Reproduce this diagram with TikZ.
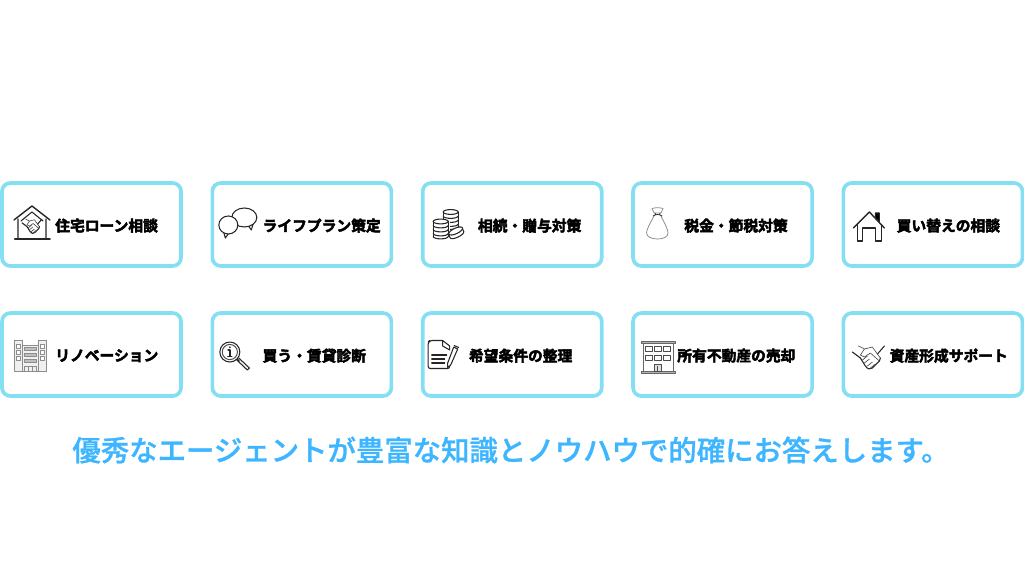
\documentclass[tikz,border=0pt]{standalone}
\usepackage{fontspec}
\setmainfont{Noto Sans CJK JP}
\newfontfamily\cardfont[FakeBold=3]{Noto Sans CJK JP Bold}
\newfontfamily\leadfont[FakeBold=1]{Noto Sans CJK JP Medium}
\usetikzlibrary{positioning}
\definecolor{cardline}{HTML}{84DFF2}
\definecolor{leadblue}{HTML}{3DB5FF}
\tikzstyle{card}=[rectangle, rounded corners=6pt, draw=cardline, line width=2.6pt, fill=white, minimum width=4.475cm, minimum height=2.075cm, outer sep=0pt, inner sep=0pt]
\tikzstyle{cardtext}=[font=\cardfont\fontsize{10.5pt}{12pt}\selectfont, inner sep=0pt, text=black, yshift=-0.8pt]
\tikzstyle{lead}=[font=\leadfont\fontsize{20.2pt}{24pt}\selectfont, text=leadblue, inner sep=0pt]
\tikzstyle{ink}=[draw=black!85, line width=0.75pt, line join=round, line cap=round]
\tikzstyle{thin}=[draw=black!70, line width=0.45pt, line join=round, line cap=round]
\tikzstyle{soft}=[draw=black!45, line width=0.55pt, line join=round]
\tikzset{
  handshake/.pic={
    \draw [ink] (-16,-5) -- (-8,1) (16,-11) -- (9,-3);
    \draw [thin] (-10,-11) .. controls (-7,-10) and (-6,-9) .. (-4,-8) -- (4,-10) -- (9,-3) -- (12,1);
    \draw [thin] (-4,-8) -- (-8,-2) -- (-4,0) -- (2,-4) -- (11,4);
    \draw [ink] (-8,1) -- (-3,9) .. controls (-1,12) and (2,13) .. (4,11) -- (11,4) -- (12,1);
    \draw [thin] (-6,3) -- (-1,-1) (-4,6) -- (1,2) (-1,9) -- (4,5) (2,11) -- (7,7);
  },
  loanicon/.pic={
    \draw [ink, line width=1pt] (12,37) -- (30,23) -- (48,37);
    \draw [ink] (16,36) -- (16,55) (44,36) -- (44,55) (19,38) -- (30,29) -- (41,38);
    \draw [ink, line width=1.4pt] (13,56) -- (48,56);
    \pic [scale=0.62] at (30,43) {handshake};
  },
  planicon/.pic={
    \draw [ink, fill=white] (34,40) -- (39,47) -- (41,40) -- cycle;
    \draw [ink, fill=white] (32,34.5) ellipse [x radius=12.5, y radius=9.5];
    \draw [ink, fill=white] (11,48) -- (13,55) -- (18,48) -- cycle;
    \draw [ink, fill=white] (16,42) ellipse [x radius=9.5, y radius=9];
  },
  giftcoin/.pic={
    \draw [ink] (0,0) ellipse [x radius=7.5, y radius=2.4];
    \draw [ink] (-7.5,0) -- (-7.5,15) (7.5,0) -- (7.5,15);
    \draw [ink] (-7.5,4) arc [start angle=180, end angle=360, x radius=7.5, y radius=-2.4];
    \draw [ink] (-7.5,8) arc [start angle=180, end angle=360, x radius=7.5, y radius=-2.4];
    \draw [ink] (-7.5,12) arc [start angle=180, end angle=360, x radius=7.5, y radius=-2.4];
    \draw [ink] (-7.5,15) arc [start angle=180, end angle=360, x radius=7.5, y radius=-2.4];
  },
  gifticon/.pic={
    \pic at (28,29) {giftcoin};
    \draw [draw=none, fill=white] (10,36) rectangle (27,57);
    \pic at (18,38.5) {giftcoin};
    \draw [ink, fill=white, rotate around={25:(33,49)}] (25.5,49) -- (25.5,52) arc [start angle=180, end angle=360, x radius=7.5, y radius=-2.6] -- (40.5,49);
    \draw [ink, fill=white] (33,48) ellipse [x radius=7.5, y radius=2.8, rotate=25];
  },
  taxicon/.pic={
    \draw [soft] (21,33) .. controls (16,42) and (13.5,47) .. (13.5,50) .. controls (13.5,54) and (19,56) .. (24.5,56)
      .. controls (30,56) and (35,54) .. (35,50) .. controls (35,47) and (32,41) .. (28,33);
    \draw [soft] (19,25.5) .. controls (22,24.5) and (27,24.5) .. (30,25.5) -- (28,30) -- (21,30) -- cycle;
    \draw [ink, line width=0.55pt] (20,33) .. controls (23,31) and (26,31) .. (29,33) (22,30) -- (22.5,32) (27,30) -- (26.5,32);
  },
  moveicon/.pic={
    \draw [ink, fill=black] (32,35) -- (32,30) -- (36,30) -- (36,39) -- cycle;
    \draw [ink, line width=1pt] (10,45) -- (26,29) -- (41,45);
    \draw [ink, line width=1pt] (14,42) -- (14,58) -- (19,58) -- (19,45) -- (32,45) -- (32,58) -- (38,58) -- (38,42);
  },
  renoicon/.pic={
    \draw [soft, fill=black!6] (12,27) rectangle (20,58) (36,27) rectangle (44,58) (20,32) rectangle (36,58);
    \foreach \yy in {31,37,43} {
      \draw [soft, fill=white] (14,\yy) rectangle (18,\yy+4) (38,\yy) rectangle (42,\yy+4);
      \draw [soft, fill=black!25] (22,\yy+3) rectangle (34,\yy+6);
    }
    \draw [soft] (22,58) -- (22,53) -- (34,53) -- (34,58) (26,53) -- (26,58) (30,53) -- (30,58);
  },
  diagicon/.pic={
    \draw [ink] (17.5,39) circle [radius=10];
    \draw [thin, line width=0.7pt] (17.5,39) circle [radius=7.6];
    \draw [ink, line width=1.1pt] (17.5,37) -- (17.5,43) (15.5,43.5) -- (19.5,43.5) (15.8,37) -- (17.5,37);
    \fill [black!85] (17.5,34.2) circle [radius=1];
    \draw [ink] (25,46) -- (27,48) (26.5,45) -- (37,55) -- (35,57) -- (24.5,47);
  },
  wishicon/.pic={
    \draw [ink, rounded corners=1.5pt] (20,27.5) -- (7,27.5) -- (5.5,29) -- (5.5,55.5) -- (27,55.5) -- (27,45);
    \draw [ink, fill=white] (20,27.5) -- (20,33) -- (27,37) -- (27,33) -- cycle;
    \draw [ink] (9,42) -- (24,42) (9,46) -- (22,46) (9,50) -- (22,50);
    \draw [ink, fill=white] (25,50) -- (31,34) -- (35,36) -- (28,52) -- (25,54.5) -- cycle;
    \draw [ink] (31.5,32.5) -- (36,34.5);
  },
  saleicon/.pic={
    \draw [soft, draw=black!60] (10,30) rectangle (40,58);
    \draw [soft, draw=black!60, fill=black!30] (8,28) rectangle (42,30) (8,58) rectangle (42,60.5);
    \foreach \xx in {12,21,30} {
      \draw [soft, draw=black!70] (\xx,33) rectangle (\xx+7,38);
      \draw [soft, draw=black!70] (\xx,42) rectangle (\xx+7,47);
    }
    \draw [soft, draw=black!70, fill=black!12] (21,51) rectangle (28,58);
    \draw [soft, draw=black!70] (24.5,53) -- (24.5,58);
  },
  asseticon/.pic={
    \pic at (25,44) {handshake};
  }
}
\begin{document}
\begin{tikzpicture}[x=0.025cm, y=-0.025cm]
    \useasboundingbox (0,0) rectangle (1024,576);

    \node [card] (loan) at (91.5,224.5) {};
    \node [card, right = 0.7825cm of loan] (plan) {};
    \node [card, right = 0.7825cm of plan] (gift) {};
    \node [card, right = 0.7825cm of gift] (tax) {};
    \node [card, right = 0.7825cm of tax] (move) {};

    \node [card, below = 1.175cm of loan] (reno) {};
    \node [card, below = 1.175cm of plan] (diag) {};
    \node [card, below = 1.175cm of gift] (wish) {};
    \node [card, below = 1.175cm of tax] (sale) {};
    \node [card, below = 1.175cm of move] (asset) {};

    \node [cardtext, right = 1.325cm of loan.west] (loantext) {住宅ローン相談};
    \node [cardtext, right = 1.25cm of plan.west] (plantext) {ライフプラン策定};
    \node [cardtext, right = 1.375cm of gift.west] (gifttext) {相続・贈与対策};
    \node [cardtext, right = 1.275cm of tax.west] (taxtext) {税金・節税対策};
    \node [cardtext, right = 1.325cm of move.west] (movetext) {買い替えの相談};

    \node [cardtext, right = 1.325cm of reno.west] (renotext) {リノベーション};
    \node [cardtext, right = 1.25cm of diag.west] (diagtext) {買う・賃貸診断};
    \node [cardtext, right = 1.15cm of wish.west] (wishtext) {希望条件の整理};
    \node [cardtext, right = 1.1cm of sale.west] (saletext) {所有不動産の売却};
    \node [cardtext, right = 1.15cm of asset.west] (assettext) {資産形成サポート};

    \pic at (loan.north west) {loanicon};
    \pic at (plan.north west) {planicon};
    \pic at (gift.north west) {gifticon};
    \pic at (tax.north west) {taxicon};
    \pic at (move.north west) {moveicon};
    \pic at (reno.north west) {renoicon};
    \pic at (diag.north west) {diagicon};
    \pic at (wish.north west) {wishicon};
    \pic at (sale.north west) {saleicon};
    \pic at (asset.north west) {asseticon};

    \node [lead] (leadline) at (511,450) {優秀なエージェントが豊富な知識とノウハウで的確にお答えします。};
  \end{tikzpicture}
\end{document}
